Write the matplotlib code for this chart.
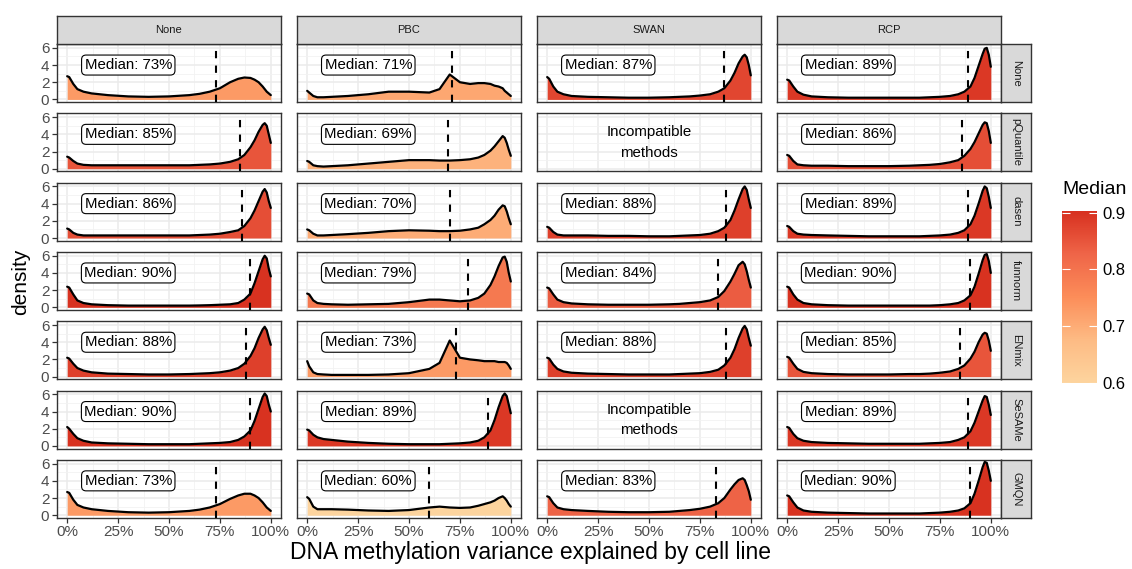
import numpy as np
import matplotlib.pyplot as plt
from matplotlib.colors import LinearSegmentedColormap, Normalize
from matplotlib.cm import ScalarMappable

plt.rcParams["font.family"] = ["Liberation Sans", "DejaVu Sans"]

# Facets
cols = ["None", "PBC", "SWAN", "RCP"]
rows = ["None", "pQuantile", "dasen", "funnorm", "ENmix", "SeSAMe", "GMQN"]

# Median variance explained (None = incompatible combination)
medians = [
    [0.73, 0.71, 0.87, 0.89],
    [0.85, 0.69, None, 0.86],
    [0.86, 0.70, 0.88, 0.89],
    [0.90, 0.79, 0.84, 0.90],
    [0.88, 0.73, 0.88, 0.85],
    [0.90, 0.89, None, 0.89],
    [0.73, 0.60, 0.83, 0.90],
]

# Density estimates read at these x positions
x_grid = [0, 0.01, 0.03, 0.05, 0.08, 0.12, 0.2, 0.3, 0.4, 0.5, 0.6, 0.65, 0.7,
          0.75, 0.8, 0.84, 0.87, 0.9, 0.92, 0.94, 0.96, 0.97, 0.98, 0.99, 1.0]

dens_none = [
    [2.7, 2.6, 1.8, 1.2, 0.9, 0.7, 0.5, 0.35, 0.3, 0.35, 0.5, 0.65, 0.9, 1.3, 2.0, 2.4, 2.55, 2.5, 2.3, 2.0, 1.5, 1.2, 0.9, 0.7, 0.5],
    [1.4, 1.3, 0.9, 0.6, 0.45, 0.4, 0.4, 0.4, 0.4, 0.4, 0.4, 0.45, 0.5, 0.6, 0.8, 1.1, 1.6, 2.5, 3.3, 4.3, 5.1, 5.3, 5.0, 4.0, 3.0],
    [1.1, 1.0, 0.6, 0.4, 0.3, 0.3, 0.3, 0.3, 0.3, 0.3, 0.3, 0.35, 0.4, 0.5, 0.7, 0.9, 1.4, 2.3, 3.2, 4.3, 5.4, 5.7, 5.3, 4.3, 3.5],
    [2.4, 2.3, 1.5, 0.8, 0.5, 0.35, 0.25, 0.2, 0.2, 0.2, 0.2, 0.22, 0.25, 0.3, 0.35, 0.5, 0.9, 1.6, 2.8, 4.2, 5.6, 6.0, 5.7, 4.5, 3.6],
    [2.2, 2.1, 1.5, 1.0, 0.7, 0.5, 0.35, 0.3, 0.25, 0.25, 0.3, 0.35, 0.4, 0.5, 0.7, 1.0, 1.5, 2.4, 3.3, 4.5, 5.5, 5.8, 5.4, 4.5, 3.7],
    [2.2, 2.0, 1.4, 0.9, 0.6, 0.4, 0.3, 0.25, 0.2, 0.2, 0.2, 0.25, 0.3, 0.35, 0.45, 0.7, 1.1, 1.8, 2.9, 4.3, 5.7, 6.1, 5.8, 4.8, 4.0],
    [2.7, 2.6, 1.8, 1.2, 0.9, 0.7, 0.5, 0.35, 0.3, 0.35, 0.5, 0.65, 0.9, 1.3, 1.9, 2.3, 2.5, 2.5, 2.3, 2.0, 1.5, 1.2, 0.9, 0.7, 0.5],
]
dens_pbc = [
    [1.0, 0.8, 0.4, 0.25, 0.25, 0.3, 0.4, 0.6, 0.9, 0.9, 0.8, 1.2, 2.9, 2.0, 1.8, 1.9, 1.9, 1.8, 1.6, 1.5, 1.3, 1.0, 0.8, 0.6, 0.4],
    [0.9, 0.8, 0.4, 0.3, 0.25, 0.3, 0.4, 0.6, 0.8, 1.0, 1.0, 0.95, 0.95, 1.0, 1.1, 1.3, 1.6, 2.1, 2.6, 3.2, 3.8, 3.6, 3.0, 2.2, 1.5],
    [1.0, 0.9, 0.5, 0.3, 0.3, 0.35, 0.45, 0.6, 0.8, 0.9, 0.85, 0.8, 0.8, 0.85, 1.0, 1.2, 1.6, 2.1, 2.6, 3.3, 3.8, 3.7, 3.1, 2.3, 1.6],
    [1.6, 1.5, 0.8, 0.5, 0.4, 0.35, 0.3, 0.35, 0.4, 0.6, 0.9, 0.9, 0.8, 0.7, 0.8, 1.1, 1.6, 2.6, 3.6, 4.8, 5.8, 5.9, 5.3, 4.0, 3.0],
    [1.8, 1.2, 0.5, 0.3, 0.25, 0.2, 0.2, 0.2, 0.25, 0.4, 0.9, 1.6, 4.2, 2.2, 2.0, 1.9, 1.8, 1.8, 1.8, 1.7, 1.7, 1.7, 1.6, 1.3, 0.9],
    [1.9, 1.8, 1.3, 1.0, 0.8, 0.7, 0.5, 0.35, 0.25, 0.2, 0.2, 0.2, 0.25, 0.3, 0.4, 0.6, 1.0, 1.8, 3.0, 4.5, 5.8, 6.1, 5.8, 4.8, 3.8],
    [2.1, 1.9, 1.0, 0.7, 0.7, 0.7, 0.65, 0.55, 0.5, 0.6, 0.9, 1.0, 0.9, 0.85, 0.9, 1.1, 1.3, 1.5, 1.7, 2.0, 2.2, 2.0, 1.7, 1.3, 1.0],
]
dens_swan = [
    [2.6, 2.4, 1.5, 0.9, 0.6, 0.4, 0.3, 0.25, 0.2, 0.2, 0.25, 0.3, 0.35, 0.45, 0.6, 0.9, 1.3, 2.2, 3.1, 4.2, 5.0, 5.2, 4.9, 4.0, 2.8],
    None,
    [1.3, 1.2, 0.7, 0.4, 0.3, 0.3, 0.3, 0.25, 0.25, 0.2, 0.2, 0.25, 0.3, 0.35, 0.5, 0.8, 1.2, 2.1, 3.2, 4.5, 5.7, 6.0, 5.6, 4.5, 3.5],
    [2.3, 2.2, 1.5, 0.9, 0.6, 0.45, 0.35, 0.3, 0.3, 0.3, 0.35, 0.4, 0.5, 0.6, 0.8, 1.2, 1.9, 3.0, 3.9, 4.9, 5.3, 5.0, 4.2, 3.2, 2.3],
    [2.2, 2.1, 1.4, 0.9, 0.6, 0.45, 0.35, 0.3, 0.25, 0.25, 0.25, 0.3, 0.35, 0.4, 0.55, 0.8, 1.3, 2.2, 3.2, 4.5, 5.6, 5.9, 5.5, 4.5, 3.6],
    None,
    [2.2, 2.1, 1.4, 0.9, 0.7, 0.6, 0.5, 0.4, 0.35, 0.35, 0.4, 0.5, 0.6, 0.75, 1.0, 1.4, 2.0, 3.0, 3.6, 4.1, 4.3, 4.1, 3.5, 2.8, 1.8],
]
dens_rcp = [
    [2.3, 2.2, 1.5, 0.9, 0.55, 0.35, 0.25, 0.2, 0.2, 0.2, 0.2, 0.2, 0.25, 0.3, 0.4, 0.6, 0.9, 1.5, 2.5, 3.9, 5.3, 5.9, 6.0, 5.2, 3.8],
    [1.6, 1.5, 0.9, 0.5, 0.4, 0.35, 0.35, 0.3, 0.3, 0.3, 0.35, 0.4, 0.45, 0.55, 0.75, 1.0, 1.5, 2.3, 3.1, 4.1, 5.1, 5.4, 5.3, 4.4, 3.0],
    [1.4, 1.3, 0.8, 0.5, 0.4, 0.35, 0.3, 0.25, 0.2, 0.2, 0.2, 0.2, 0.25, 0.3, 0.4, 0.6, 0.9, 1.6, 2.6, 4.0, 5.5, 6.0, 5.8, 4.8, 3.5],
    [2.4, 2.3, 1.5, 0.9, 0.5, 0.35, 0.25, 0.2, 0.2, 0.2, 0.2, 0.2, 0.2, 0.25, 0.35, 0.5, 0.8, 1.4, 2.4, 3.9, 5.5, 6.1, 6.2, 5.4, 4.0],
    [2.3, 2.2, 1.5, 0.9, 0.55, 0.4, 0.3, 0.25, 0.25, 0.25, 0.3, 0.3, 0.35, 0.45, 0.6, 0.9, 1.3, 2.1, 2.9, 4.0, 4.9, 5.1, 5.0, 4.2, 3.0],
    [2.2, 2.1, 1.4, 0.9, 0.6, 0.45, 0.35, 0.3, 0.25, 0.25, 0.25, 0.25, 0.3, 0.35, 0.45, 0.7, 1.0, 1.7, 2.7, 4.0, 5.3, 5.8, 5.7, 4.8, 3.6],
    [2.3, 2.2, 1.5, 0.9, 0.55, 0.4, 0.3, 0.25, 0.2, 0.2, 0.2, 0.2, 0.25, 0.3, 0.4, 0.55, 0.8, 1.4, 2.5, 4.0, 5.6, 6.2, 6.1, 5.2, 4.0],
]
densities = [dens_none, dens_pbc, dens_swan, dens_rcp]

x_ticks = [0, 0.25, 0.5, 0.75, 1.0]
x_labels = ["0%", "25%", "50%", "75%", "100%"]
y_ticks = [0, 2, 4, 6]
cbar_ticks = [0.6, 0.7, 0.8, 0.9]

W, H = 1132, 569
fig = plt.figure(figsize=(W / 100, H / 100), dpi=100)


def box(x0, top, w, h):
    return [x0 / W, 1 - (top + h) / H, w / W, h / H]


cmap = LinearSegmentedColormap.from_list(
    "orrd", ["#FDD49E", "#FDBB84", "#FC8D59", "#EF6548", "#D7301F"])
norm = Normalize(vmin=0.6, vmax=0.903)

grey20 = "#333333"
grey30 = "#4D4D4D"
x = np.array(x_grid)

for i, rname in enumerate(rows):
    for j, cname in enumerate(cols):
        ax = fig.add_axes(box(57 + 240 * j, 44 + 69.3 * i, 224, 58))
        ax.set_xlim(-0.05, 1.05)
        ax.set_ylim(-0.3, 6.45)
        ax.set_xticks(x_ticks)
        ax.set_xticks([0.125, 0.375, 0.625, 0.875], minor=True)
        ax.set_yticks(y_ticks)
        ax.set_yticks([1, 3, 5], minor=True)
        ax.grid(True, which="major", color="#EBEBEB", lw=1.1)
        ax.grid(True, which="minor", color="#F2F2F2", lw=0.6)
        ax.set_axisbelow(True)
        for s in ax.spines.values():
            s.set_color(grey20)
            s.set_linewidth(1.0)
        ax.tick_params(which="minor", length=0)
        ax.tick_params(which="major", length=3.5, width=0.9, color=grey20,
                       labelsize=11, labelcolor=grey30, pad=2)
        if j == 0:
            ax.set_yticklabels([str(t) for t in y_ticks])
        else:
            ax.tick_params(axis="y", length=0, labelleft=False)
        if i == len(rows) - 1:
            ax.set_xticklabels(x_labels)
        else:
            ax.tick_params(axis="x", length=0, labelbottom=False)

        med = medians[i][j]
        dens = densities[j][i]
        if med is None or dens is None:
            ax.text(0.5, 3.05, "Incompatible\nmethods", ha="center", va="center",
                    fontsize=10.8, linespacing=1.55, color="black")
        else:
            d = np.array(dens)
            ax.fill_between(x, 0, d, color=cmap(norm(med)), lw=0, zorder=2)
            ax.plot(x, d, color="black", lw=1.6, zorder=3,
                    solid_joinstyle="round", solid_capstyle="round")
            ax.axvline(med, color="black", lw=1.5, ls=(0, (3.5, 3.5)), zorder=4)
            ax.text(0.3, 4.0, f"Median: {med * 100:.0f}%", ha="center", va="center",
                    fontsize=10.8, zorder=5,
                    bbox=dict(boxstyle="round,pad=0.2,rounding_size=0.3",
                              fc="white", ec="black", lw=0.8))

        # top strips
        if i == 0:
            sax = fig.add_axes(box(57 + 240 * j, 16, 224, 28))
            sax.set_facecolor("#D9D9D9")
            sax.set_xticks([])
            sax.set_yticks([])
            for s in sax.spines.values():
                s.set_color(grey20)
                s.set_linewidth(1.0)
            sax.text(0.5, 0.5, cname, ha="center", va="center", fontsize=8,
                     color="#1A1A1A", transform=sax.transAxes)
        # right strips
        if j == len(cols) - 1:
            rax = fig.add_axes(box(1001, 44 + 69.3 * i, 30, 58))
            rax.set_facecolor("#D9D9D9")
            rax.set_xticks([])
            rax.set_yticks([])
            for s in rax.spines.values():
                s.set_color(grey20)
                s.set_linewidth(1.0)
            rax.text(0.5, 0.5, rname, ha="center", va="center", fontsize=8,
                     rotation=-90, color="#1A1A1A", transform=rax.transAxes)

fig.text(21 / W, 1 - 282 / H, "density", rotation=90, ha="center", va="center",
         fontsize=15)
fig.text(531 / W, 1 - 553 / H, "DNA methylation variance explained by cell line",
         ha="center", va="center", fontsize=16.5)

# colour bar
cax = fig.add_axes(box(1062, 211, 35, 172))
cb = fig.colorbar(ScalarMappable(norm=norm, cmap=cmap), cax=cax, ticks=cbar_ticks)
cb.outline.set_visible(False)
cax.yaxis.set_ticks_position("both")
cax.tick_params(which="major", direction="in", length=6, width=0.8, color="white",
                labelsize=12, labelcolor="black", pad=4, labelleft=False,
                labelright=True)
cax.minorticks_off()
cax.set_yticklabels(["0.6", "0.7", "0.8", "0.9"])
fig.text(1062 / W, 1 - 190 / H, "Median", ha="left", va="center", fontsize=14)

fig.savefig("out.png", dpi=100)
